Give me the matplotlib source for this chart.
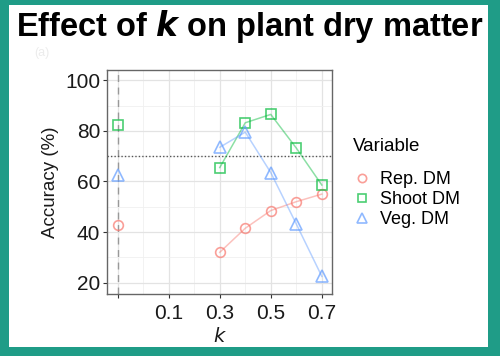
import numpy as np
import matplotlib
matplotlib.use("Agg")
import matplotlib.pyplot as plt
from matplotlib.patches import Rectangle
from matplotlib.ticker import MultipleLocator

plt.rcParams['font.family'] = ['Liberation Sans', 'DejaVu Sans']

# data
k_vals = [0.3, 0.4, 0.5, 0.6, 0.7]
baseline_k = -0.1
rep_dm = [32, 41.5, 48.5, 52, 55]
shoot_dm = [65.5, 83.2, 86.5, 73.2, 58.6]
veg_dm = [73.5, 79.5, 63.5, 43.2, 22.5]
base_rep, base_shoot, base_veg = 42.7, 82.4, 62.7
threshold = 70

x_ticks = [-0.1, 0.1, 0.3, 0.5, 0.7]
x_labels = ['', '0.1', '0.3', '0.5', '0.7']

series = [
    ('Rep. DM', rep_dm, base_rep, '#F8766D', 'o'),
    ('Shoot DM', shoot_dm, base_shoot, '#00BA38', 's'),
    ('Veg. DM', veg_dm, base_veg, '#619CFF', '^'),
]

fig = plt.figure(figsize=(5, 3.56), dpi=100)
teal = '#1f9c87'
# teal frame
fig.patches.append(Rectangle((0, 0), 1, 1, transform=fig.transFigure,
                             facecolor=teal, edgecolor='none', zorder=-10))
fig.patches.append(Rectangle((9/500, 9/356), (488-9)/500, (349-7)/356,
                             transform=fig.transFigure, facecolor='white',
                             edgecolor='none', zorder=-9))

ax = fig.add_axes([0.214, 0.174, 0.45, 0.629])

ax.axvline(baseline_k, color='#999999', lw=1.0, ls=(0, (5, 4)), zorder=1)
ax.axhline(threshold, color='#555555', lw=1.0, ls=(0, (1, 1.5)), zorder=1)

for name, vals, base, col, mk in series:
    ms = 8 if mk == '^' else 7
    ax.plot(k_vals, vals, color=col, alpha=0.45, lw=1.1, zorder=2)
    ax.plot(k_vals + [baseline_k], vals + [base], ls='none', marker=mk,
            markersize=ms, markerfacecolor='none', markeredgecolor=col,
            markeredgewidth=1.2, alpha=0.7, zorder=3, label=name)

ax.set_xlim(-0.142, 0.74)
ax.set_ylim(15.5, 104)
ax.set_xticks(x_ticks)
ax.set_xticklabels(x_labels)
ax.xaxis.set_minor_locator(MultipleLocator(0.1))
ax.set_yticks([20, 40, 60, 80, 100])
ax.yaxis.set_minor_locator(MultipleLocator(10))
ax.grid(which='major', color='#e3e3e3', lw=0.9)
ax.grid(which='minor', color='#f0f0f0', lw=0.6)
ax.set_axisbelow(True)
ax.tick_params(which='minor', length=0)
ax.tick_params(which='major', length=3, color='#333333', labelsize=15,
               labelcolor='#1a1a1a', pad=2)
ax.tick_params(axis='x', pad=4)
for sp in ax.spines.values():
    sp.set_color('#666666')
    sp.set_linewidth(1.0)

ax.set_ylabel('Accuracy (%)', fontsize=13.5, color='#1a1a1a', labelpad=4)
ax.set_xlabel('$\\mathit{k}$', fontsize=14, color='#1a1a1a', labelpad=3)

leg = ax.legend(loc='upper left', bbox_to_anchor=(1.06, 0.73), frameon=False,
                title='Variable', fontsize=13, title_fontsize=13.5,
                handletextpad=0.5, labelspacing=0.15, borderaxespad=0,
                handlelength=1.0, markerscale=0.85)
leg._legend_box.align = 'left'
leg._legend_box.sep = 12

fig.text(0.5, 0.925, 'Effect of $\\mathbfit{k}$ on plant dry matter',
         ha='center', va='center', fontsize=23.5, fontweight='bold')
fig.text(0.068, 0.852, '(a)', color='#ececec', fontsize=9, va='center')

fig.savefig('out.png', dpi=100)
